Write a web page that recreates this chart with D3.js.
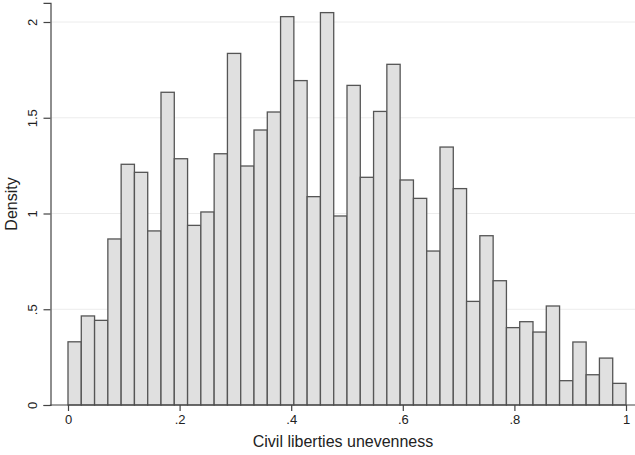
<!DOCTYPE html>
<html>
<head>
<meta charset="utf-8">
<script src="https://cdn.jsdelivr.net/npm/d3@7"></script>
<style>
  html, body { margin: 0; padding: 0; background: #fff; }
  svg { display: block; font-family: "Liberation Sans", Arial, sans-serif; }
</style>
</head>
<body>
<svg id="chart" width="635" height="455"></svg>
<script>
// Histogram: 42 equal bins on [0, 1]
const binCount = 42;
const binMin = 0;
const binMax = 1;
const densities = [
  0.33, 0.465, 0.442, 0.867, 1.257, 1.215, 0.909, 1.633, 1.286, 0.938,
  1.008, 1.312, 1.836, 1.248, 1.436, 1.530, 2.028, 1.694, 1.088, 2.049,
  0.987, 1.669, 1.189, 1.533, 1.779, 1.175, 1.079, 0.804, 1.347, 1.130,
  0.541, 0.884, 0.649, 0.404, 0.435, 0.381, 0.517, 0.127, 0.329, 0.158,
  0.245, 0.113
];
const xTicks = [0, 0.2, 0.4, 0.6, 0.8, 1];
const yTicks = [0, 0.5, 1, 1.5, 2];
const xTitle = "Civil liberties unevenness";
const yTitle = "Density";

const binW = (binMax - binMin) / binCount;
const bins = densities.map((d, i) => ({ x0: binMin + i * binW, x1: binMin + (i + 1) * binW, v: d }));

const svg = d3.select("#chart");
const x = d3.scaleLinear().domain([0, 1]).range([68, 626]);
const y = d3.scaleLinear().domain([0, 2.1]).range([405, 2.85]);
const axisX0 = 50.5, rightEdge = 635;
const fmt = v => (v === 0 ? "0" : v === 1 ? "1" : String(v).replace(/^0\./, "."));

// gridlines
svg.append("g").selectAll("line").data(yTicks.filter(t => t > 0)).join("line")
  .attr("x1", axisX0 + 1).attr("x2", rightEdge)
  .attr("y1", d => y(d)).attr("y2", d => y(d))
  .attr("stroke", "#ececec").attr("stroke-width", 1);

// bars
svg.append("g").selectAll("rect").data(bins).join("rect")
  .attr("x", d => x(d.x0))
  .attr("y", d => y(d.v))
  .attr("width", d => x(d.x1) - x(d.x0))
  .attr("height", d => y(0) - y(d.v))
  .attr("fill", "#e0e0e0")
  .attr("stroke", "#555")
  .attr("stroke-width", 1.3);

// y axis
const yAxis = svg.append("g").attr("transform", `translate(${axisX0},0)`)
  .call(d3.axisLeft(y).tickValues(yTicks).tickFormat(fmt).tickSize(7).tickPadding(0));
yAxis.select(".domain").attr("stroke", "#444").attr("stroke-width", 1.2);
yAxis.selectAll(".tick line").attr("stroke", "#444").attr("stroke-width", 1.2);
yAxis.selectAll(".tick text")
  .attr("transform", "rotate(-90)")
  .attr("x", 0).attr("y", -14).attr("dy", 0)
  .attr("text-anchor", "middle")
  .attr("fill", "#222")
  .style("font-size", "13px")
  .style("font-family", "Liberation Sans, Arial, sans-serif");

// x axis
const xAxis = svg.append("g").attr("transform", "translate(0,405)")
  .call(d3.axisBottom(x).tickValues(xTicks).tickFormat(fmt).tickSize(6).tickPadding(4));
xAxis.select(".domain").remove();
xAxis.selectAll(".tick line").attr("stroke", "#444").attr("stroke-width", 1.2);
xAxis.selectAll(".tick text").attr("fill", "#222")
  .style("font-size", "13px")
  .style("font-family", "Liberation Sans, Arial, sans-serif");
svg.append("line").attr("x1", axisX0 - 0.6).attr("x2", rightEdge)
  .attr("y1", y(0)).attr("y2", y(0))
  .attr("stroke", "#444").attr("stroke-width", 1.2);

// titles
svg.append("text").attr("x", 343).attr("y", 446.5)
  .attr("text-anchor", "middle").attr("fill", "#222")
  .style("font-size", "16px").text(xTitle);
svg.append("text").attr("transform", "translate(17,204) rotate(-90)")
  .attr("text-anchor", "middle").attr("fill", "#222")
  .style("font-size", "16px").text(yTitle);
</script>
</body>
</html>
